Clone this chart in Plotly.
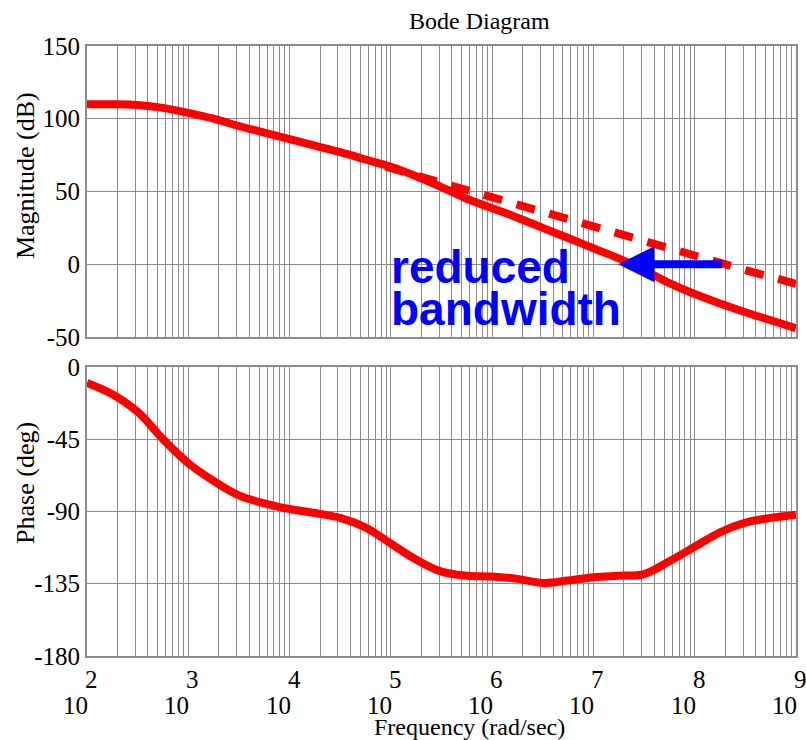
import plotly.graph_objects as go
from plotly.subplots import make_subplots

# ---- data (log10 of frequency in rad/sec) ----
log_freq = [2.0, 2.25, 2.5, 2.75, 3.0, 3.25, 3.5, 3.75, 4.0, 4.25, 4.5, 4.75, 5.0,
            5.25, 5.5, 5.75, 6.0, 6.25, 6.5, 6.75, 7.0, 7.25, 7.5, 7.75, 8.0,
            8.25, 8.5, 8.75, 9.0]
mag_db = [110, 110, 109.5, 107.5, 104, 100, 95, 90.5, 86, 81.5, 77, 72, 67,
          60.5, 53, 45, 38.5, 32, 25, 18, 11, 4, -4, -13, -20.5,
          -27, -33, -38.5, -44]
phase_deg = [-10, -17, -28, -45, -60, -71, -80, -85, -88.5, -91, -94, -100, -110,
             -120, -127.5, -130, -130.5, -132, -134.5, -133, -131, -130, -129, -121, -112,
             -103, -97, -94, -92]
log_freq_orig = [4.95, 5.5, 6.0, 6.5, 7.0, 7.5, 8.0, 8.5, 9.0]
mag_orig_db = [67, 56, 45, 35, 25.5, 15.5, 6, -4, -13.5]

decade_exps = [2, 3, 4, 5, 6, 7, 8, 9]
mag_ticks = [-50, 0, 50, 100, 150]
mag_tick_text = ["-50", "0", "50", "100", "150"]
phase_ticks = [-180, -135, -90, -45, 0]
phase_tick_text = ["-180", "-135", "-90", "-45", "0"]

freq = [10 ** e for e in log_freq]
freq_orig = [10 ** e for e in log_freq_orig]

grid_vals = []
for e in decade_exps:
    for m in range(1, 10):
        v = m * 10 ** e
        if v <= 10 ** decade_exps[-1]:
            grid_vals.append(v)

SERIF = "Liberation Serif, Times New Roman, Times, serif"
SANS = "Liberation Sans, Arial, Helvetica, sans-serif"
GRID = "#8c8c8c"

fig = make_subplots(rows=2, cols=1, shared_xaxes=False, vertical_spacing=0.05)

fig.add_trace(go.Scatter(x=freq, y=mag_db, mode="lines", line=dict(color="#ff0000", width=8, shape="spline"),
                         showlegend=False), row=1, col=1)
fig.add_trace(go.Scatter(x=freq_orig, y=mag_orig_db, mode="lines",
                         line=dict(color="#ff0000", width=8, dash="19px,15px"), showlegend=False), row=1, col=1)
fig.add_trace(go.Scatter(x=freq, y=phase_deg, mode="lines", line=dict(color="#ff0000", width=8, shape="spline"),
                         showlegend=False), row=2, col=1)

xcommon = dict(type="log", range=[decade_exps[0], decade_exps[-1]], tickvals=grid_vals,
               showticklabels=False, ticks="", showgrid=True, gridcolor=GRID, gridwidth=1.3,
               showline=True, mirror=True, linecolor=GRID, linewidth=2, zeroline=False)
fig.update_xaxes(**xcommon)
ycommon = dict(showgrid=True, gridcolor=GRID, gridwidth=1.3, showline=True, mirror=True,
               linecolor=GRID, linewidth=2, zeroline=False, ticks="",
               tickfont=dict(family=SERIF, size=25, color="black"))
fig.update_yaxes(**ycommon)
fig.update_layout(
    yaxis=dict(range=[mag_ticks[0], mag_ticks[-1]], tickvals=mag_ticks, ticktext=mag_tick_text,
               domain=[0.523, 1.0]),
    yaxis2=dict(range=[phase_ticks[0], phase_ticks[-1]], tickvals=phase_ticks, ticktext=phase_tick_text,
                domain=[0.0, 0.474]),
)

ann = []
# x tick labels "10" with exponent above
for e in decade_exps:
    ann.append(dict(xref="x2", yref="paper", x=e, y=-0.0393, text=str(e), showarrow=False,
                    xanchor="left", yanchor="middle", xshift=-4,
                    font=dict(family=SERIF, size=25, color="black")))
    ann.append(dict(xref="x2", yref="paper", x=e, y=-0.081, text="10", showarrow=False,
                    xanchor="right", yanchor="middle", xshift=3,
                    font=dict(family=SERIF, size=25, color="black")))
ann.append(dict(xref="paper", yref="paper", x=0.539, y=-0.117, text="Frequency (rad/sec)", showarrow=False,
                xanchor="center", yanchor="middle", font=dict(family=SERIF, size=24, color="black")))
ann.append(dict(xref="paper", yref="paper", x=0.554, y=1.041, text="Bode Diagram", showarrow=False,
                xanchor="center", yanchor="middle", font=dict(family=SERIF, size=24, color="black")))
ann.append(dict(xref="paper", yref="paper", x=-0.0858, y=0.787, text="Magnitude (dB)", showarrow=False,
                textangle=-90, xanchor="center", yanchor="middle", font=dict(family=SERIF, size=26, color="black")))
ann.append(dict(xref="paper", yref="paper", x=-0.0858, y=0.284, text="Phase (deg)", showarrow=False,
                textangle=-90, xanchor="center", yanchor="middle", font=dict(family=SERIF, size=26, color="black")))
# arrow
ann.append(dict(xref="x", yref="y", x=7.246, y=0, ax=105, ay=0, text="", showarrow=True,
                arrowhead=2, arrowsize=0.9, arrowwidth=8, arrowcolor="#0000ff", standoff=0))
# annotation text
ann.append(dict(xref="x", yref="y", x=5.0, y=-2, text="reduced", showarrow=False, xanchor="left",
                yanchor="middle", xshift=-2,
                font=dict(family=SANS, size=46, color="#0000ff", weight="bold")))
ann.append(dict(xref="x", yref="y", x=5.0, y=-31, text="bandwidth", showarrow=False, xanchor="left",
                yanchor="middle", xshift=-2,
                font=dict(family=SANS, size=46, color="#0000ff", weight="bold")))

fig.update_layout(
    width=806, height=740,
    margin=dict(l=87, r=8, t=46, b=84),
    paper_bgcolor="white", plot_bgcolor="white",
    annotations=ann,
    showlegend=False,
)

fig.write_html("out.html")
